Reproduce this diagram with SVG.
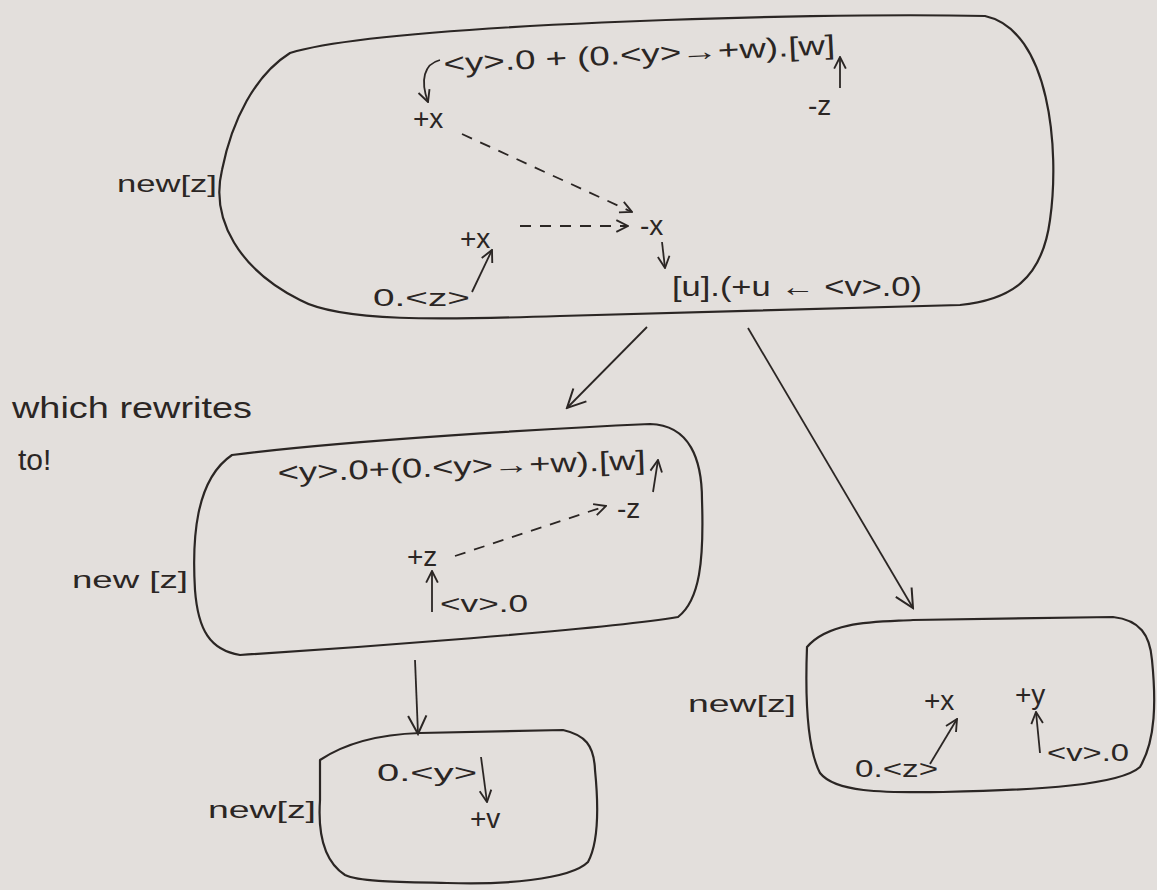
<svg xmlns="http://www.w3.org/2000/svg" width="1157" height="890" viewBox="0 0 1157 890">
<defs>
<marker id="ah" viewBox="0 0 12 12" refX="11" refY="6" markerWidth="14" markerHeight="14" markerUnits="userSpaceOnUse" orient="auto">
<path d="M1,1 L11,6 L1,11" fill="none" stroke="#2b2624" stroke-width="1.6"/>
</marker>
<marker id="ahb" viewBox="0 0 12 12" refX="11" refY="6" markerWidth="22" markerHeight="22" markerUnits="userSpaceOnUse" orient="auto">
<path d="M1,1 L11,6 L1,11" fill="none" stroke="#2b2624" stroke-width="1.1"/>
</marker>
</defs>
<style>
.bg{fill:#e3dfdc}
.box{fill:none;stroke:#2b2624;stroke-width:2.2;stroke-linejoin:round}
.ln{fill:none;stroke:#2b2624;stroke-width:1.8}
.dash{fill:none;stroke:#2b2624;stroke-width:1.8;stroke-dasharray:11 9}
.t{font-family:"Liberation Sans","DejaVu Sans",sans-serif;fill:#2b2624}
.big{font-size:27px}
.mid{font-size:24px}
.lab{font-size:28px}
.note{font-size:30px}
</style>
<rect class="bg" x="0" y="0" width="1157" height="890"/>

<g id="note">
<text class="t note" x="12" y="418" textLength="240" lengthAdjust="spacingAndGlyphs">which rewrites</text>
<text class="t note" x="18" y="470">to!</text>
</g>

<g id="node1">
<path class="box" d="M290,53 C380,25 800,12 985,16 C1050,30 1060,150 1050,220 C1042,280 1010,300 960,305 L560,316 C440,320 340,322 300,300 C240,270 210,220 222,170 C232,120 255,75 290,53 Z"/>
<text class="t mid" x="117" y="192" textLength="100" lengthAdjust="spacingAndGlyphs">new[z]</text>
<text class="t big" x="444" y="73" textLength="392" lengthAdjust="spacingAndGlyphs" transform="rotate(-2.8 444 73)">&lt;y&gt;.0 + (0.&lt;y&gt;→+w).[w]</text>
<path class="ln" d="M440,60 C424,64 420,80 428,102" marker-end="url(#ah)"/>
<text class="t lab" x="413" y="128">+x</text>
<path class="dash" d="M462,134 L632,212" marker-end="url(#ah)"/>
<text class="t lab" x="460" y="248">+x</text>
<path class="dash" d="M520,226 L628,226" marker-end="url(#ah)"/>
<text class="t lab" x="640" y="235">-x</text>
<path class="ln" d="M662,242 L665,268" marker-end="url(#ah)"/>
<text class="t big" x="672" y="296" textLength="250" lengthAdjust="spacingAndGlyphs">[u].(+u ← &lt;v&gt;.0)</text>
<text class="t mid" x="373" y="306" textLength="97" lengthAdjust="spacingAndGlyphs">0.&lt;z&gt;</text>
<path class="ln" d="M472,292 L492,250" marker-end="url(#ah)"/>
<text class="t lab" x="808" y="115">-z</text>
<path class="ln" d="M840,88 L840,57" marker-end="url(#ah)"/>
</g>

<g id="node2">
<path class="box" d="M232,455 C350,440 560,428 650,424 C690,425 702,460 702,500 C704,560 700,600 678,617 C600,630 350,648 240,655 C210,650 198,630 195,590 C192,540 195,480 232,455 Z"/>
<text class="t mid" x="72" y="588" textLength="116" lengthAdjust="spacingAndGlyphs">new [z]</text>
<text class="t big" x="278" y="482" textLength="368" lengthAdjust="spacingAndGlyphs" transform="rotate(-2 278 482)">&lt;y&gt;.0+(0.&lt;y&gt;→+w).[w]</text>
<path class="ln" d="M653,492 L658,460" marker-end="url(#ah)"/>
<text class="t lab" x="617" y="518">-z</text>
<path class="dash" d="M455,556 L606,506" marker-end="url(#ah)"/>
<text class="t lab" x="407" y="566">+z</text>
<path class="ln" d="M432,612 L432,571" marker-end="url(#ah)"/>
<text class="t mid" x="440" y="612" textLength="88" lengthAdjust="spacingAndGlyphs">&lt;v&gt;.0</text>
</g>

<g id="node3">
<path class="box" d="M807,647 C830,620 880,622 913,620 L1113,617 C1140,620 1150,635 1152,660 C1156,700 1156,740 1140,767 C1120,785 1040,790 943,792 C880,793 835,792 820,773 C808,750 805,700 807,647 Z"/>
<text class="t mid" x="688" y="712" textLength="108" lengthAdjust="spacingAndGlyphs">new[z]</text>
<text class="t lab" x="924" y="710">+x</text>
<text class="t mid" x="855" y="777" textLength="83" lengthAdjust="spacingAndGlyphs">0.&lt;z&gt;</text>
<path class="ln" d="M930,764 L957,719" marker-end="url(#ah)"/>
<text class="t lab" x="1015" y="704">+y</text>
<path class="ln" d="M1040,753 L1036,712" marker-end="url(#ah)"/>
<text class="t mid" x="1047" y="761" textLength="82" lengthAdjust="spacingAndGlyphs">&lt;v&gt;.0</text>
</g>

<g id="node4">
<path class="box" d="M320,760 C350,740 390,734 420,733 L563,730 C585,735 594,745 595,770 C598,800 600,840 588,862 C570,880 500,885 447,883 C400,882 360,882 345,875 C322,860 318,830 320,800 Z"/>
<text class="t mid" x="208" y="818" textLength="108" lengthAdjust="spacingAndGlyphs">new[z]</text>
<text class="t mid" x="377" y="781" textLength="100" lengthAdjust="spacingAndGlyphs">0.&lt;y&gt;</text>
<path class="ln" d="M481,757 L487,802" marker-end="url(#ah)"/>
<text class="t lab" x="470" y="828">+v</text>
</g>

<g id="connectors">
<path class="ln" d="M647,327 L567,408" marker-end="url(#ahb)"/>
<path class="ln" d="M748,328 L913,608" marker-end="url(#ahb)"/>
<path class="ln" d="M415,660 L418,734" marker-end="url(#ahb)"/>
</g>
</svg>
